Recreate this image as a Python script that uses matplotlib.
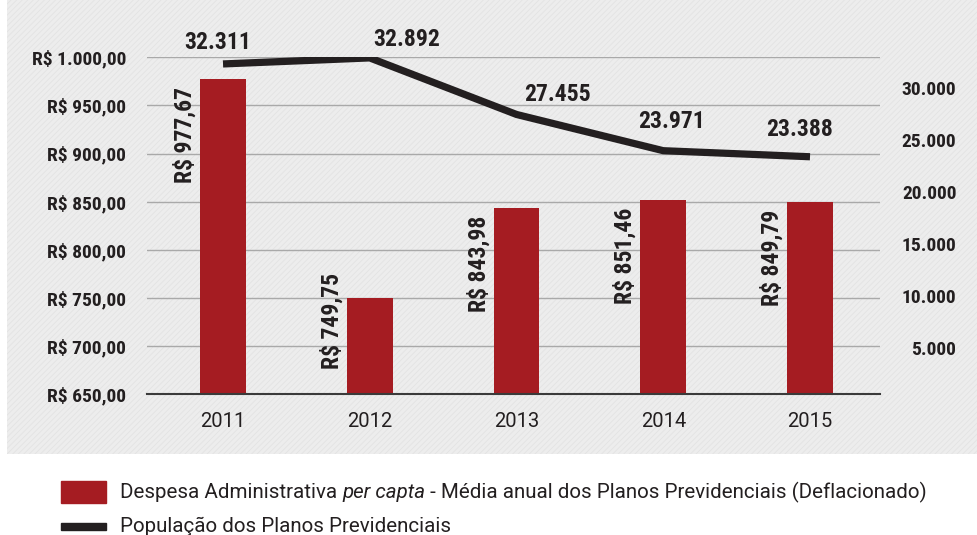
import os
import matplotlib.pyplot as plt
from matplotlib import font_manager
from matplotlib.font_manager import FontProperties
from matplotlib.patches import Rectangle
import numpy as np

plt.rcParams['hatch.linewidth'] = 0.6

anos = ['2011', '2012', '2013', '2014', '2015']
despesa = [977.67, 749.75, 843.98, 851.46, 849.79]   # R$ per capta
populacao = [32311, 32892, 27455, 23971, 23388]
despesa_ticks = [650, 700, 750, 800, 850, 900, 950, 1000]
pop_ticks = [5000, 10000, 15000, 20000, 25000, 30000]

# label offsets for the population values (pixels)
pop_offsets = [(-5, 21), (37, 18), (41, 20), (8, 29), (-10, 27)]

RED = '#a51c22'
DARK = '#231f20'
REG = 'Roboto'

# narrowest bold face available for the numbers
wanted = ['NotoSans-CondensedBold.ttf', 'RobotoCondensed-Bold.ttf',
          'LiberationSansNarrow-Bold.ttf', 'DejaVuSansCondensed-Bold.ttf']
found = {os.path.basename(f.fname): f.fname for f in font_manager.fontManager.ttflist}
cond_path = next((found[n] for n in wanted if n in found), None)


def bold(size):
    if cond_path:
        return FontProperties(fname=cond_path, size=size)
    return FontProperties(family='DejaVu Sans', stretch='condensed',
                          weight='bold', size=size)


def brl(v):
    s = f"{v:,.2f}"
    return s.replace(',', 'X').replace('.', ',').replace('X', '.')


def milhar(v):
    return f"{v:,}".replace(',', '.')


W, H = 978, 535
fig = plt.figure(figsize=(W / 100, H / 100), dpi=100)

# light striped panel behind the chart
fig.patches.append(Rectangle((7 / W, 1 - 454 / H), 1 - 7 / W, 454 / H,
                             transform=fig.transFigure, facecolor='#ededed',
                             edgecolor='#e3e3e3', hatch='//////', lw=0, zorder=-5))

ax = fig.add_axes([147 / W, 1 - 394.3 / H, (880 - 147) / W, (394.3 - 57.3) / H])
ax.patch.set_visible(False)
x = np.arange(len(anos))
bw = 0.313

ax.bar(x, despesa, width=bw, color=RED, zorder=2)
ax.set_xlim(-0.518, 4.477)
ax.set_ylim(650, 1000)
ax.set_yticks(despesa_ticks)
ax.set_yticklabels(['R$ ' + brl(v) for v in despesa_ticks],
                   fontproperties=bold(14), color=DARK)
ax.set_xticks(x)
ax.set_xticklabels(anos, fontfamily=REG, fontsize=14.5, color=DARK)
ax.tick_params(axis='y', length=0, pad=15)
ax.tick_params(axis='x', length=0, pad=13)
ax.grid(axis='y', color='#a9a9a9', lw=1)
ax.set_axisbelow(True)
for s in ['top', 'left', 'right']:
    ax.spines[s].set_visible(False)
ax.spines['bottom'].set_color('#3a3a3a')
ax.spines['bottom'].set_linewidth(1.5)

# rotated value labels beside each bar
for xi, v in zip(x, despesa):
    ax.text(xi - bw / 2 - 0.022, max(v - 8, 776), 'R$ ' + brl(v), rotation=90,
            ha='right', va='top', fontproperties=bold(17), color=DARK, zorder=3)

ax2 = ax.twinx()
ax2.set_ylim(550, 32950)
ax2.plot(x, populacao, color=DARK, lw=5.2, solid_joinstyle='miter',
         solid_capstyle='butt', zorder=4)
ax2.set_yticks(pop_ticks)
ax2.set_yticklabels([milhar(v) for v in pop_ticks], fontproperties=bold(14),
                    color=DARK, ha='right')
ax2.tick_params(axis='y', length=0, pad=55)
for s in ax2.spines.values():
    s.set_visible(False)

for xi, v, (dx, dy) in zip(x, populacao, pop_offsets):
    ax2.annotate(milhar(v), (xi, v), xytext=(dx, dy), textcoords='offset pixels',
                 ha='center', va='center', fontproperties=bold(17), color=DARK,
                 annotation_clip=False)

# legend drawn by hand so "per capta" can be italic
fig.patches.append(Rectangle((61 / W, 1 - 503 / H), 45 / W, 22 / H,
                             transform=fig.transFigure, color=RED))
fig.patches.append(Rectangle((61 / W, 1 - 530 / H), 45 / W, 7 / H,
                             transform=fig.transFigure, color=DARK))

renderer = fig.canvas.get_renderer()
parts = [('Despesa Administrativa ', 'normal'), ('per capta', 'italic'),
         (' - Média anual dos Planos Previdenciais (Deflacionado)', 'normal')]
xpos = 120
for txt, style in parts:
    t = fig.text(xpos / W, 1 - 492 / H, txt, fontfamily=REG, style=style,
                 fontsize=14.8, color=DARK, va='center', ha='left')
    xpos += t.get_window_extent(renderer).width
fig.text(120 / W, 1 - 526 / H, 'População dos Planos Previdenciais',
         fontfamily=REG, fontsize=14.8, color=DARK, va='center', ha='left')

fig.savefig('out.png', dpi=100, facecolor='white')
